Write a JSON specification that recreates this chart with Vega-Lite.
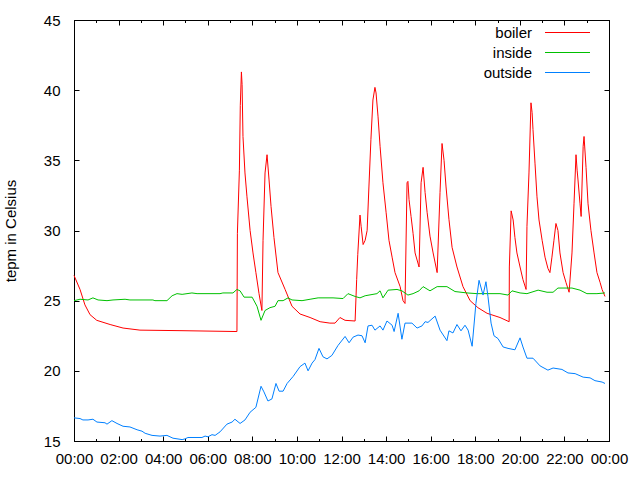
{
  "$schema": "https://vega.github.io/schema/vega-lite/v6.json",
  "autosize": "none",
  "width": 535,
  "height": 421,
  "padding": {"left": 74, "top": 20, "right": 31, "bottom": 39},
  "background": "white",
  "config": {
    "view": {"stroke": "#000", "strokeWidth": 1},
    "font": "Liberation Sans",
    "axis": {"labelFont": "Liberation Sans", "labelFontSize": 15, "labelColor": "#000", "domainColor": "#000", "tickColor": "#000", "grid": false, "titleFont": "Liberation Sans", "titleFontSize": 15, "titleFontWeight": "normal", "titleColor": "#000"}
  },
  "data": {"values": [
    {"s":"boiler","t":0,"v":26.8},{"s":"boiler","t":0.27,"v":25.8},{"s":"boiler","t":0.49,"v":24.7},{"s":"boiler","t":0.72,"v":24.0},{"s":"boiler","t":1.02,"v":23.6},{"s":"boiler","t":1.62,"v":23.3},{"s":"boiler","t":2.2,"v":23.05},{"s":"boiler","t":2.96,"v":22.9},{"s":"boiler","t":4.89,"v":22.86},{"s":"boiler","t":7.31,"v":22.8},{"s":"boiler","t":7.33,"v":29.8},{"s":"boiler","t":7.42,"v":34.3},{"s":"boiler","t":7.46,"v":38.9},{"s":"boiler","t":7.51,"v":41.3},{"s":"boiler","t":7.54,"v":40.4},{"s":"boiler","t":7.58,"v":36.7},{"s":"boiler","t":7.67,"v":34.1},{"s":"boiler","t":7.76,"v":32.4},{"s":"boiler","t":7.9,"v":30.0},{"s":"boiler","t":8.03,"v":28.4},{"s":"boiler","t":8.16,"v":27.0},{"s":"boiler","t":8.3,"v":25.5},{"s":"boiler","t":8.43,"v":24.3},{"s":"boiler","t":8.48,"v":29.3},{"s":"boiler","t":8.57,"v":34.1},{"s":"boiler","t":8.66,"v":35.4},{"s":"boiler","t":8.75,"v":33.6},{"s":"boiler","t":8.84,"v":31.7},{"s":"boiler","t":8.97,"v":29.5},{"s":"boiler","t":9.15,"v":27.0},{"s":"boiler","t":9.47,"v":25.8},{"s":"boiler","t":9.78,"v":24.6},{"s":"boiler","t":10.14,"v":24.05},{"s":"boiler","t":10.59,"v":23.8},{"s":"boiler","t":11.04,"v":23.5},{"s":"boiler","t":11.48,"v":23.4},{"s":"boiler","t":11.71,"v":23.4},{"s":"boiler","t":11.93,"v":23.8},{"s":"boiler","t":12.16,"v":23.6},{"s":"boiler","t":12.61,"v":23.55},{"s":"boiler","t":12.68,"v":26.5},{"s":"boiler","t":12.73,"v":28.3},{"s":"boiler","t":12.83,"v":31.1},{"s":"boiler","t":12.88,"v":30.3},{"s":"boiler","t":12.97,"v":29.0},{"s":"boiler","t":13.06,"v":29.3},{"s":"boiler","t":13.15,"v":30.0},{"s":"boiler","t":13.23,"v":33.1},{"s":"boiler","t":13.32,"v":36.5},{"s":"boiler","t":13.41,"v":39.3},{"s":"boiler","t":13.5,"v":40.2},{"s":"boiler","t":13.55,"v":39.8},{"s":"boiler","t":13.64,"v":38.1},{"s":"boiler","t":13.73,"v":36.0},{"s":"boiler","t":13.86,"v":33.4},{"s":"boiler","t":14.0,"v":31.3},{"s":"boiler","t":14.13,"v":29.3},{"s":"boiler","t":14.27,"v":28.1},{"s":"boiler","t":14.4,"v":27.0},{"s":"boiler","t":14.63,"v":26.0},{"s":"boiler","t":14.76,"v":25.0},{"s":"boiler","t":14.85,"v":24.8},{"s":"boiler","t":14.94,"v":33.4},{"s":"boiler","t":14.98,"v":33.5},{"s":"boiler","t":15.03,"v":32.2},{"s":"boiler","t":15.12,"v":31.0},{"s":"boiler","t":15.21,"v":29.8},{"s":"boiler","t":15.3,"v":28.4},{"s":"boiler","t":15.48,"v":27.4},{"s":"boiler","t":15.57,"v":33.4},{"s":"boiler","t":15.66,"v":34.5},{"s":"boiler","t":15.75,"v":32.7},{"s":"boiler","t":15.84,"v":31.3},{"s":"boiler","t":15.97,"v":29.6},{"s":"boiler","t":16.11,"v":28.4},{"s":"boiler","t":16.29,"v":27.0},{"s":"boiler","t":16.42,"v":32.7},{"s":"boiler","t":16.51,"v":36.2},{"s":"boiler","t":16.6,"v":35.0},{"s":"boiler","t":16.69,"v":33.1},{"s":"boiler","t":16.82,"v":30.8},{"s":"boiler","t":16.96,"v":28.8},{"s":"boiler","t":17.18,"v":27.4},{"s":"boiler","t":17.45,"v":26.0},{"s":"boiler","t":17.77,"v":25.0},{"s":"boiler","t":18.12,"v":24.5},{"s":"boiler","t":18.53,"v":24.1},{"s":"boiler","t":19.11,"v":23.8},{"s":"boiler","t":19.52,"v":23.5},{"s":"boiler","t":19.53,"v":27.4},{"s":"boiler","t":19.61,"v":31.4},{"s":"boiler","t":19.7,"v":30.75},{"s":"boiler","t":19.78,"v":29.5},{"s":"boiler","t":19.87,"v":28.4},{"s":"boiler","t":20.01,"v":27.4},{"s":"boiler","t":20.14,"v":26.5},{"s":"boiler","t":20.28,"v":25.8},{"s":"boiler","t":20.32,"v":30.3},{"s":"boiler","t":20.41,"v":34.1},{"s":"boiler","t":20.5,"v":39.1},{"s":"boiler","t":20.55,"v":38.4},{"s":"boiler","t":20.59,"v":37.2},{"s":"boiler","t":20.68,"v":34.8},{"s":"boiler","t":20.77,"v":32.4},{"s":"boiler","t":20.86,"v":30.75},{"s":"boiler","t":21.0,"v":29.3},{"s":"boiler","t":21.13,"v":28.1},{"s":"boiler","t":21.26,"v":27.3},{"s":"boiler","t":21.35,"v":27.0},{"s":"boiler","t":21.44,"v":28.1},{"s":"boiler","t":21.53,"v":29.3},{"s":"boiler","t":21.62,"v":30.5},{"s":"boiler","t":21.71,"v":30.0},{"s":"boiler","t":21.8,"v":28.4},{"s":"boiler","t":21.94,"v":27.0},{"s":"boiler","t":22.07,"v":26.3},{"s":"boiler","t":22.21,"v":25.6},{"s":"boiler","t":22.34,"v":28.4},{"s":"boiler","t":22.43,"v":31.9},{"s":"boiler","t":22.52,"v":35.4},{"s":"boiler","t":22.57,"v":34.3},{"s":"boiler","t":22.61,"v":33.6},{"s":"boiler","t":22.7,"v":31.9},{"s":"boiler","t":22.75,"v":31.0},{"s":"boiler","t":22.84,"v":36.0},{"s":"boiler","t":22.88,"v":36.7},{"s":"boiler","t":22.97,"v":34.5},{"s":"boiler","t":23.06,"v":31.9},{"s":"boiler","t":23.19,"v":30.0},{"s":"boiler","t":23.33,"v":28.4},{"s":"boiler","t":23.46,"v":27.0},{"s":"boiler","t":23.6,"v":26.3},{"s":"boiler","t":23.69,"v":25.8},{"s":"boiler","t":23.82,"v":25.3},
    {"s":"inside","t":0,"v":25.0},{"s":"inside","t":0.27,"v":25.1},{"s":"inside","t":0.63,"v":25.05},{"s":"inside","t":0.85,"v":25.2},{"s":"inside","t":1.08,"v":25.05},{"s":"inside","t":1.48,"v":25.0},{"s":"inside","t":1.75,"v":25.05},{"s":"inside","t":2.29,"v":25.1},{"s":"inside","t":2.51,"v":25.05},{"s":"inside","t":3.54,"v":25.05},{"s":"inside","t":3.63,"v":25.0},{"s":"inside","t":4.17,"v":25.0},{"s":"inside","t":4.4,"v":25.35},{"s":"inside","t":4.62,"v":25.5},{"s":"inside","t":4.85,"v":25.45},{"s":"inside","t":5.29,"v":25.55},{"s":"inside","t":5.52,"v":25.5},{"s":"inside","t":6.55,"v":25.5},{"s":"inside","t":6.68,"v":25.55},{"s":"inside","t":7.13,"v":25.55},{"s":"inside","t":7.31,"v":25.8},{"s":"inside","t":7.45,"v":25.7},{"s":"inside","t":7.63,"v":25.25},{"s":"inside","t":7.99,"v":25.25},{"s":"inside","t":8.21,"v":24.6},{"s":"inside","t":8.39,"v":23.6},{"s":"inside","t":8.57,"v":24.3},{"s":"inside","t":8.79,"v":24.5},{"s":"inside","t":9.02,"v":24.6},{"s":"inside","t":9.15,"v":25.0},{"s":"inside","t":9.38,"v":25.0},{"s":"inside","t":9.6,"v":25.2},{"s":"inside","t":9.78,"v":25.05},{"s":"inside","t":10.23,"v":25.0},{"s":"inside","t":10.59,"v":25.1},{"s":"inside","t":10.95,"v":25.2},{"s":"inside","t":11.62,"v":25.2},{"s":"inside","t":12.07,"v":25.15},{"s":"inside","t":12.29,"v":25.5},{"s":"inside","t":12.61,"v":25.3},{"s":"inside","t":12.83,"v":25.2},{"s":"inside","t":13.06,"v":25.35},{"s":"inside","t":13.59,"v":25.5},{"s":"inside","t":13.73,"v":25.7},{"s":"inside","t":13.86,"v":25.2},{"s":"inside","t":14.09,"v":25.75},{"s":"inside","t":14.49,"v":25.8},{"s":"inside","t":14.71,"v":25.7},{"s":"inside","t":14.98,"v":25.4},{"s":"inside","t":15.21,"v":25.5},{"s":"inside","t":15.48,"v":25.7},{"s":"inside","t":15.66,"v":26.0},{"s":"inside","t":15.97,"v":25.7},{"s":"inside","t":16.29,"v":26.0},{"s":"inside","t":16.73,"v":26.0},{"s":"inside","t":17.09,"v":25.65},{"s":"inside","t":17.63,"v":25.55},{"s":"inside","t":18.08,"v":25.5},{"s":"inside","t":18.53,"v":25.5},{"s":"inside","t":19.11,"v":25.5},{"s":"inside","t":19.47,"v":25.4},{"s":"inside","t":19.65,"v":25.7},{"s":"inside","t":20.01,"v":25.55},{"s":"inside","t":20.32,"v":25.5},{"s":"inside","t":20.82,"v":25.75},{"s":"inside","t":21.22,"v":25.6},{"s":"inside","t":21.49,"v":25.6},{"s":"inside","t":21.71,"v":25.9},{"s":"inside","t":22.34,"v":25.9},{"s":"inside","t":22.7,"v":25.75},{"s":"inside","t":23.01,"v":25.5},{"s":"inside","t":23.46,"v":25.5},{"s":"inside","t":23.82,"v":25.55},
    {"s":"outside","t":0,"v":16.65},{"s":"outside","t":0.27,"v":16.6},{"s":"outside","t":0.4,"v":16.5},{"s":"outside","t":0.63,"v":16.5},{"s":"outside","t":0.85,"v":16.55},{"s":"outside","t":1.03,"v":16.35},{"s":"outside","t":1.39,"v":16.3},{"s":"outside","t":1.48,"v":16.2},{"s":"outside","t":1.7,"v":16.45},{"s":"outside","t":1.93,"v":16.25},{"s":"outside","t":2.2,"v":16.05},{"s":"outside","t":2.51,"v":16.0},{"s":"outside","t":2.83,"v":15.8},{"s":"outside","t":3.05,"v":15.7},{"s":"outside","t":3.19,"v":15.55},{"s":"outside","t":3.5,"v":15.4},{"s":"outside","t":3.86,"v":15.35},{"s":"outside","t":4.17,"v":15.4},{"s":"outside","t":4.44,"v":15.2},{"s":"outside","t":4.85,"v":15.1},{"s":"outside","t":4.98,"v":15.15},{"s":"outside","t":5.11,"v":15.25},{"s":"outside","t":5.74,"v":15.25},{"s":"outside","t":5.88,"v":15.35},{"s":"outside","t":6.01,"v":15.3},{"s":"outside","t":6.19,"v":15.45},{"s":"outside","t":6.33,"v":15.4},{"s":"outside","t":6.55,"v":15.65},{"s":"outside","t":6.86,"v":16.2},{"s":"outside","t":7.09,"v":16.35},{"s":"outside","t":7.22,"v":16.55},{"s":"outside","t":7.45,"v":16.25},{"s":"outside","t":7.67,"v":16.5},{"s":"outside","t":7.9,"v":17.05},{"s":"outside","t":8.16,"v":17.4},{"s":"outside","t":8.39,"v":18.9},{"s":"outside","t":8.52,"v":18.5},{"s":"outside","t":8.7,"v":17.85},{"s":"outside","t":8.88,"v":18.0},{"s":"outside","t":9.06,"v":19.1},{"s":"outside","t":9.2,"v":18.55},{"s":"outside","t":9.38,"v":18.55},{"s":"outside","t":9.56,"v":19.1},{"s":"outside","t":9.83,"v":19.6},{"s":"outside","t":10.14,"v":20.3},{"s":"outside","t":10.36,"v":20.55},{"s":"outside","t":10.5,"v":20.0},{"s":"outside","t":10.68,"v":20.55},{"s":"outside","t":10.81,"v":20.8},{"s":"outside","t":10.99,"v":21.6},{"s":"outside","t":11.17,"v":21.0},{"s":"outside","t":11.35,"v":20.85},{"s":"outside","t":11.57,"v":21.1},{"s":"outside","t":11.84,"v":21.8},{"s":"outside","t":12.16,"v":22.45},{"s":"outside","t":12.34,"v":22.0},{"s":"outside","t":12.52,"v":22.4},{"s":"outside","t":12.74,"v":22.55},{"s":"outside","t":12.92,"v":22.5},{"s":"outside","t":13.06,"v":22.0},{"s":"outside","t":13.19,"v":23.2},{"s":"outside","t":13.37,"v":23.25},{"s":"outside","t":13.5,"v":22.9},{"s":"outside","t":13.73,"v":23.2},{"s":"outside","t":13.86,"v":22.9},{"s":"outside","t":14.04,"v":23.55},{"s":"outside","t":14.27,"v":23.25},{"s":"outside","t":14.36,"v":22.8},{"s":"outside","t":14.54,"v":24.1},{"s":"outside","t":14.71,"v":22.25},{"s":"outside","t":14.85,"v":23.4},{"s":"outside","t":15.16,"v":23.4},{"s":"outside","t":15.39,"v":23.05},{"s":"outside","t":15.61,"v":23.2},{"s":"outside","t":15.75,"v":23.5},{"s":"outside","t":15.88,"v":23.45},{"s":"outside","t":16.2,"v":23.9},{"s":"outside","t":16.42,"v":22.9},{"s":"outside","t":16.73,"v":22.15},{"s":"outside","t":16.82,"v":22.85},{"s":"outside","t":17.0,"v":22.7},{"s":"outside","t":17.18,"v":23.3},{"s":"outside","t":17.36,"v":22.85},{"s":"outside","t":17.54,"v":23.25},{"s":"outside","t":17.68,"v":22.9},{"s":"outside","t":17.86,"v":21.75},{"s":"outside","t":18.03,"v":24.8},{"s":"outside","t":18.17,"v":26.45},{"s":"outside","t":18.35,"v":25.4},{"s":"outside","t":18.48,"v":26.35},{"s":"outside","t":18.57,"v":25.3},{"s":"outside","t":18.71,"v":23.4},{"s":"outside","t":18.84,"v":22.5},{"s":"outside","t":19.02,"v":22.3},{"s":"outside","t":19.25,"v":21.7},{"s":"outside","t":19.47,"v":21.6},{"s":"outside","t":19.78,"v":21.5},{"s":"outside","t":20.01,"v":22.35},{"s":"outside","t":20.14,"v":21.7},{"s":"outside","t":20.32,"v":20.9},{"s":"outside","t":20.59,"v":20.9},{"s":"outside","t":20.91,"v":20.35},{"s":"outside","t":21.26,"v":20.05},{"s":"outside","t":21.49,"v":20.2},{"s":"outside","t":21.89,"v":20.1},{"s":"outside","t":22.16,"v":19.85},{"s":"outside","t":22.48,"v":19.8},{"s":"outside","t":22.84,"v":19.55},{"s":"outside","t":23.15,"v":19.5},{"s":"outside","t":23.37,"v":19.3},{"s":"outside","t":23.69,"v":19.2},{"s":"outside","t":23.82,"v":19.1}
  ]},
  "layer": [
    {
      "mark": {"type": "line", "strokeWidth": 1, "interpolate": "linear"},
      "encoding": {
        "x": {"field": "t", "type": "quantitative", "scale": {"domain": [0, 24], "nice": false, "zero": false},
          "axis": {"orient": "bottom", "title": null, "values": [0,1,2,3,4,5,6,7,8,9,10,11,12,13,14,15,16,17,18,19,20,21,22,23,24],
            "labelExpr": "datum.value % 2 == 1 ? '' : (datum.value == 24 ? '00:00' : (datum.value < 10 ? '0' : '') + datum.value + ':00')",
            "tickSize": {"condition": {"test": "datum.value % 2 == 1", "value": -2.5}, "value": -5},
            "labelPadding": 15, "labelFlush": false, "labelOverlap": false, "labelBound": false}},
        "y": {"field": "v", "type": "quantitative", "scale": {"domain": [15, 45], "nice": false, "zero": false},
          "axis": {"orient": "left", "title": "tepm in Celsius", "values": [15,20,25,30,35,40,45], "tickSize": -5, "labelPadding": 19, "titlePadding": 25, "labelFlush": false, "labelOverlap": false}},
        "color": {"field": "s", "type": "nominal",
          "scale": {"domain": ["boiler", "inside", "outside"], "range": ["#ff0000", "#00c000", "#0080ff"]},
          "legend": {"orient": "none", "legendX": 458, "legendY": 5, "title": null, "padding": 0,
            "symbolType": "M-4.5,0L4.5,0", "symbolSize": 100, "symbolStrokeWidth": 1, "rowPadding": 4,
            "labelFont": "Liberation Sans", "labelFontSize": 15, "labelColor": "#000",
            "encode": {
              "labels": {"update": {"x": {"value": 0}, "align": {"value": "right"}}},
              "symbols": {"update": {"x": {"value": 35.5}}}
            }}}
      }
    },
    {
      "mark": {"type": "point", "opacity": 0},
      "encoding": {
        "x": {"field": "t", "type": "quantitative", "scale": {"domain": [0, 24], "nice": false, "zero": false},
          "axis": {"orient": "top", "title": null, "labels": false, "values": [0,1,2,3,4,5,6,7,8,9,10,11,12,13,14,15,16,17,18,19,20,21,22,23,24],
            "tickSize": {"condition": {"test": "datum.value % 2 == 1", "value": -2.5}, "value": -5}}},
        "y": {"field": "v", "type": "quantitative", "scale": {"domain": [15, 45], "nice": false, "zero": false},
          "axis": {"orient": "right", "title": null, "labels": false, "values": [15,20,25,30,35,40,45], "tickSize": -5}}
      }
    }
  ],
  "resolve": {"axis": {"x": "independent", "y": "independent"}}
}
